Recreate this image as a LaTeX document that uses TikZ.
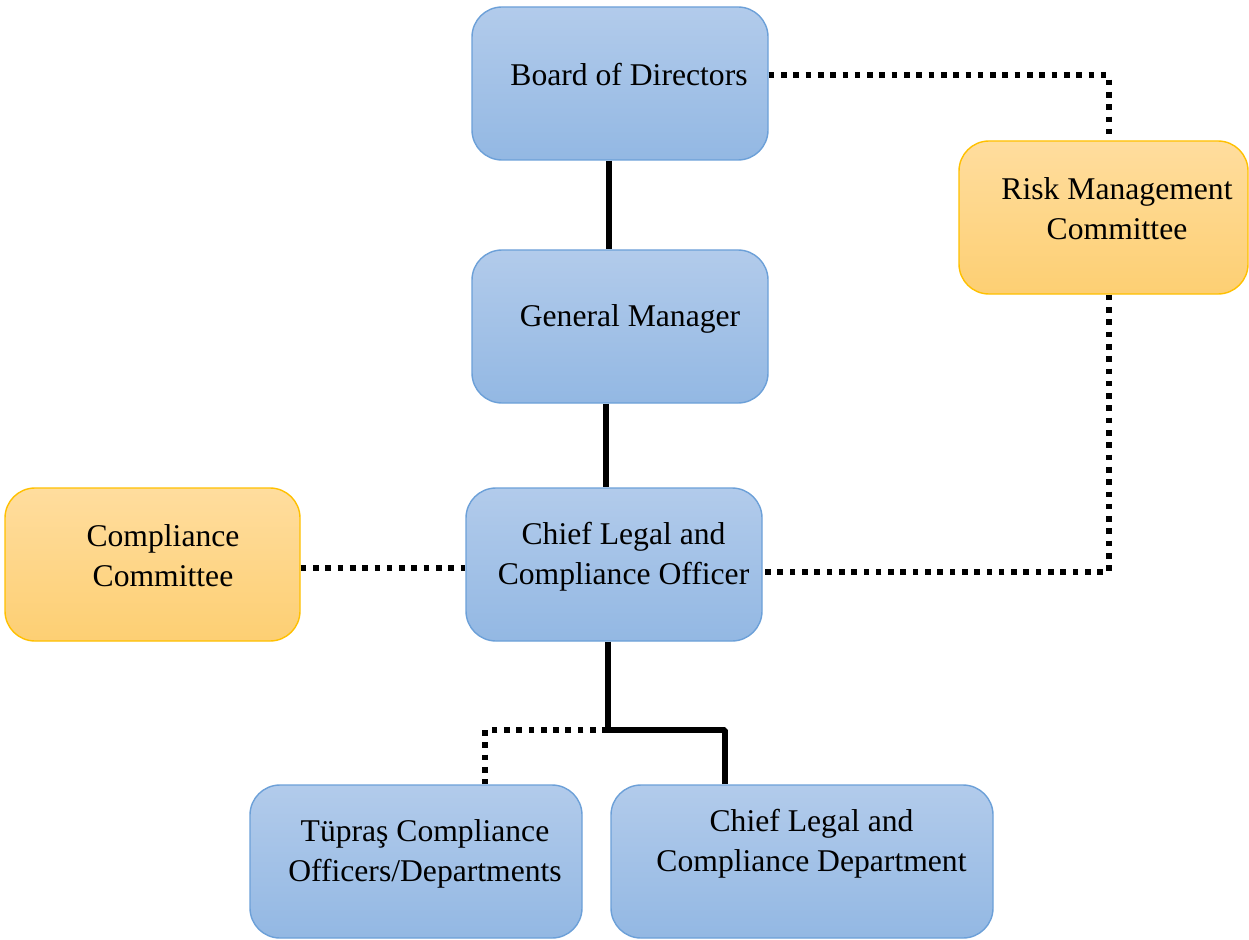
\documentclass[tikz,border=0pt]{standalone}
\usepackage{fontspec}
\setmainfont{Liberation Serif}
\usepackage{tikz}
\usetikzlibrary{positioning,calc,shapes}

\definecolor{bluetop}{RGB}{178,203,235}
\definecolor{bluebot}{RGB}{147,184,227}
\definecolor{blueline}{RGB}{108,160,216}
\definecolor{orangetop}{RGB}{255,221,158}
\definecolor{orangebot}{RGB}{253,207,115}
\definecolor{orangeline}{RGB}{255,192,0}

\begin{document}
\begin{tikzpicture}[line join=bevel,
  bluebox/.style={rectangle,rounded corners=0.6cm,draw=blueline,line width=0.8pt,top color=bluetop,bottom color=bluebot,minimum height=3.06cm,inner sep=0pt},
  orangebox/.style={rectangle,rounded corners=0.6cm,draw=orangeline,line width=0.8pt,top color=orangetop,bottom color=orangebot,minimum height=3.06cm,inner sep=0pt},
  txt/.style={align=center,font=\fontsize{18}{22.7}\selectfont,inner sep=0pt},
  solidline/.style={line width=3.4pt},
  dotline/.style={line width=3.4pt,dash pattern=on 3.2pt off 3.8pt}]
\useasboundingbox (0,0) rectangle (24.98,-18.8);

% boxes
\node [bluebox,minimum width=5.92cm] at (12.4,-1.67) (bod) {};
\node [bluebox,minimum width=5.92cm] at (12.4,-6.53) (gm) {};
\node [bluebox,minimum width=5.92cm] at (12.28,-11.29) (clco) {};
\node [orangebox,minimum width=5.78cm] at (22.07,-4.35) (rmc) {};
\node [orangebox,minimum width=5.9cm] at (3.05,-11.29) (cc) {};
\node [bluebox,minimum width=6.64cm] at (8.32,-17.23) (tco) {};
\node [bluebox,minimum width=7.64cm] at (16.04,-17.23) (cld) {};

% connectors
\coordinate (split) at (12.16,-14.6);
\draw [solidline] ([xshift=-0.22cm]bod.south) -- ([xshift=-0.22cm]gm.north);
\draw [solidline] ([xshift=-0.28cm]gm.south) -- ([xshift=-0.28cm]gm.south |- clco.north);
\draw [solidline] (split |- clco.south) -- (split) -| ([xshift=-1.54cm]cld.north);
\draw [dotline] (split) -| ([xshift=1.38cm]tco.north);
\draw [dotline] ([yshift=0.17cm]bod.east) -| ([xshift=0.1cm]rmc.north);
\draw [dotline] ([xshift=0.1cm]rmc.south) |- ([yshift=-0.15cm]clco.east);
\draw [dotline] ([yshift=-0.07cm]cc.east) -- ([yshift=-0.07cm]clco.west);

% texts
\node [txt] at (12.58,-1.5) (tbod) {Board of Directors};
\node [txt] at (12.6,-6.37) (tgm) {General Manager};
\node [txt] at (12.47,-11.14) (tclco) {Chief Legal and\\Compliance Officer};
\node [txt] at (22.34,-4.17) (trmc) {Risk Management\\Committee};
\node [txt] at (3.26,-11.11) (tcc) {Compliance\\Committee};
\node [txt] at (8.5,-17.07) (ttco) {Tüpraş Compliance\\Officers/Departments};
\node [txt] at (16.23,-16.87) (tcld) {Chief Legal and\\Compliance Department};
\end{tikzpicture}
\end{document}
